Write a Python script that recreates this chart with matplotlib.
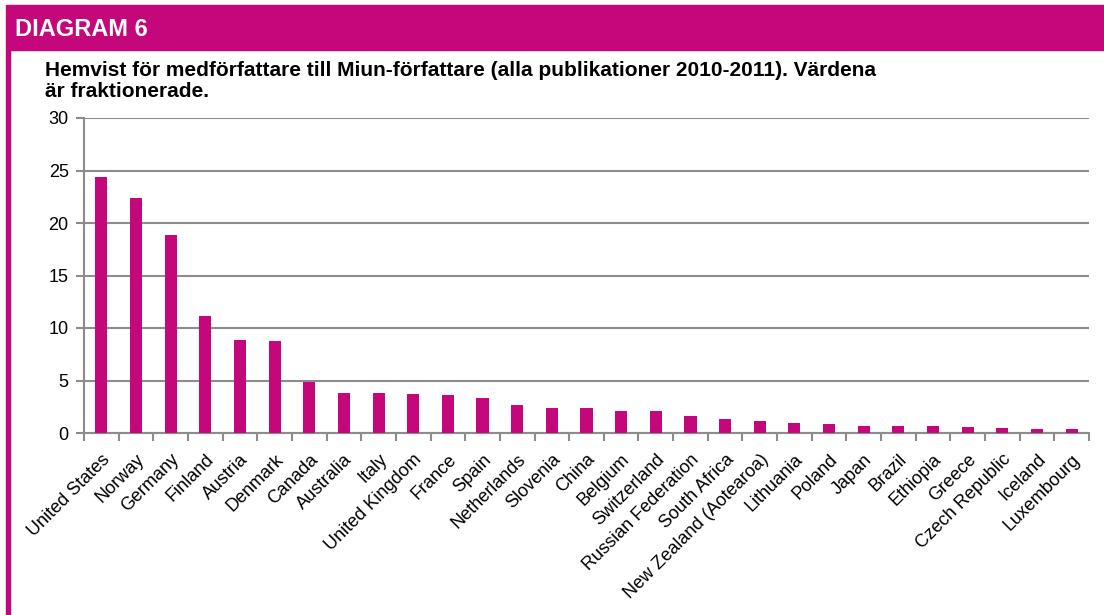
import matplotlib.pyplot as plt
from matplotlib.patches import Rectangle

countries = ['United States', 'Norway', 'Germany', 'Finland', 'Austria', 'Denmark',
             'Canada', 'Australia', 'Italy', 'United Kingdom', 'France', 'Spain',
             'Netherlands', 'Slovenia', 'China', 'Belgium', 'Switzerland',
             'Russian Federation', 'South Africa', 'New Zealand (Aotearoa)',
             'Lithuania', 'Poland', 'Japan', 'Brazil', 'Ethiopia', 'Greece',
             'Czech Republic', 'Iceland', 'Luxembourg']
values = [24.4, 22.4, 18.86, 11.1, 8.9, 8.8, 4.9, 3.85, 3.8, 3.7, 3.6, 3.3,
          2.67, 2.41, 2.38, 2.12, 2.09, 1.62, 1.33, 1.1, 0.98, 0.89, 0.7,
          0.67, 0.67, 0.57, 0.48, 0.38, 0.38]
y_ticks = [0, 5, 10, 15, 20, 25, 30]

magenta = '#c4077a'
grid_c = '#8c8c8c'
plt.rcParams['font.family'] = ['Liberation Sans', 'DejaVu Sans']

W, H = 1104, 615
fig = plt.figure(figsize=(W / 100, H / 100), dpi=100)

# header band and left stripe
fig.patches.append(Rectangle((6 / W, 1 - 50 / H), 1 - 6 / W, 45 / H,
                             transform=fig.transFigure, color=magenta, zorder=0))
fig.patches.append(Rectangle((6 / W, 0), 4 / W, 1 - 50 / H,
                             transform=fig.transFigure, color=magenta, zorder=0))
fig.text(15 / W, 1 - 30 / H, 'DIAGRAM 6', color='white', fontsize=17,
         fontweight='bold', va='center', ha='left')
fig.text(45 / W, 1 - 61 / H,
         'Hemvist för medförfattare till Miun-författare (alla publikationer 2010-2011). Värdena\när fraktionerade.',
         fontsize=15, fontweight='bold', va='top', ha='left', linespacing=1.15)

ax = fig.add_axes([84 / W, 1 - 433 / H, (1089 - 84) / W, (433 - 118) / H])
x = list(range(len(countries)))
ax.bar(x, values, width=0.35, color=magenta, zorder=3)
ax.set_xlim(-0.5, len(countries) - 0.5)
ax.set_ylim(0, 30)
ax.set_yticks(y_ticks)
ax.set_yticklabels([str(t) for t in y_ticks], fontsize=13)
ax.yaxis.grid(True, color=grid_c, linewidth=1.5, zorder=0)
ax.set_axisbelow(True)

ax.set_xticks(x)
ax.set_xticklabels(countries, rotation=45, ha='right', rotation_mode='anchor', fontsize=13)
ax.tick_params(axis='x', length=0, pad=13)
ax.set_xticks([i - 0.5 for i in range(len(countries) + 1)], minor=True)
ax.tick_params(axis='x', which='minor', length=6, color=grid_c, width=1.5)
ax.tick_params(axis='y', length=6, color=grid_c, width=1.5, pad=5)

for s in ['top', 'right']:
    ax.spines[s].set_visible(False)
for s in ['left', 'bottom']:
    ax.spines[s].set_color(grid_c)
    ax.spines[s].set_linewidth(1.5)

fig.savefig('out.png', dpi=100)
